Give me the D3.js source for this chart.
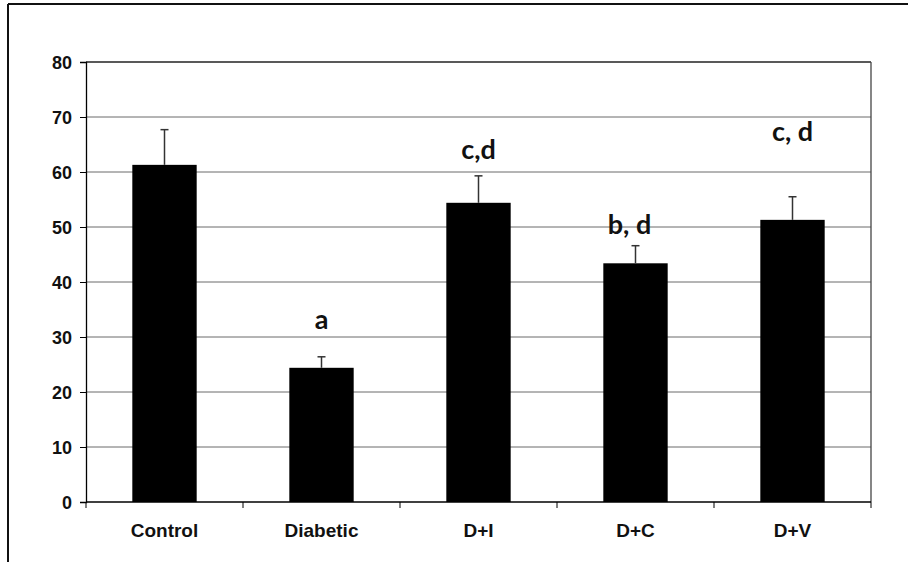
<!DOCTYPE html>
<html><head><meta charset="utf-8">
<script src="https://cdn.jsdelivr.net/npm/d3@7"></script>
<style>html,body{margin:0;padding:0;background:#fff;}svg{display:block;}</style>
</head><body>
<script>
const categories = ["Control","Diabetic","D+I","D+C","D+V"];
const values = [61.3, 24.4, 54.4, 43.4, 51.3];
const errors = [6.4, 2.0, 4.9, 3.2, 4.2];
const annotations = ["", "a", "c,d", "b, d", "c, d"];
const annotationValues = [null, 31.5, 62.4, 48.8, 65.7];
const yTicks = [0,10,20,30,40,50,60,70,80];

const W = 908, H = 562;
const svg = d3.select("body").append("svg").attr("width", W).attr("height", H);
const m = {left: 86, top: 62, right: 871, bottom: 502};

// outer frame
svg.append("line").attr("x1", 8).attr("x2", W).attr("y1", 4).attr("y2", 4).attr("stroke", "#111").attr("stroke-width", 2);
svg.append("line").attr("x1", 8).attr("x2", 8).attr("y1", 4).attr("y2", H).attr("stroke", "#111").attr("stroke-width", 2);

const x = d3.scaleBand().domain(categories).range([m.left, m.right]).paddingInner(0.59).paddingOuter(0.295);
const xr = d3.scaleBand().domain(categories).range([m.left, m.right]);
const y = d3.scaleLinear().domain([0, 80]).range([m.bottom, m.top]);

// gridlines
svg.append("g").selectAll("line").data(yTicks.filter(d => d > 0 && d < 80)).join("line")
  .attr("x1", m.left).attr("x2", m.right).attr("y1", d => y(d)).attr("y2", d => y(d))
  .attr("stroke", "#6a6a6a").attr("stroke-width", 1);
// plot border top/right
svg.append("line").attr("x1", m.left).attr("x2", m.right).attr("y1", y(80)).attr("y2", y(80)).attr("stroke", "#222").attr("stroke-width", 1.3);
svg.append("line").attr("x1", m.right).attr("x2", m.right).attr("y1", y(80)).attr("y2", y(0)).attr("stroke", "#444").attr("stroke-width", 1.3);

// bars
svg.append("g").selectAll("rect").data(categories).join("rect")
  .attr("x", d => x(d)).attr("width", x.bandwidth())
  .attr("y", (d,i) => y(values[i])).attr("height", (d,i) => y(0) - y(values[i]))
  .attr("fill", "#000");

// error bars
const eb = svg.append("g").attr("stroke", "#333").attr("stroke-width", 1.5);
categories.forEach((c,i) => {
  const cx = x(c) + x.bandwidth()/2;
  eb.append("line").attr("x1", cx).attr("x2", cx).attr("y1", y(values[i])).attr("y2", y(values[i]+errors[i]));
  eb.append("line").attr("x1", cx-4).attr("x2", cx+4).attr("y1", y(values[i]+errors[i])).attr("y2", y(values[i]+errors[i]));
});

// axes
const yAxis = d3.axisLeft(y).tickValues(yTicks).tickSize(6).tickPadding(8);
const gy = svg.append("g").attr("transform", `translate(${m.left},0)`).call(yAxis);
gy.attr("font-size", null);
gy.select(".domain").attr("stroke", "#000").attr("stroke-width", 1.3);
gy.selectAll(".tick line").attr("stroke", "#000");
gy.selectAll(".tick text").attr("font-family", "'Liberation Sans', Arial, sans-serif")
  .attr("font-weight", "bold").style("font-size", "18px").attr("fill", "#111")
  .attr("dy", "0.36em");

const gx = svg.append("g").attr("transform", `translate(0,${m.bottom})`);
gx.append("line").attr("x1", m.left).attr("x2", m.right).attr("stroke", "#000").attr("stroke-width", 1.3);
gx.selectAll("line.t").data(categories.concat(["end"])).join("line").attr("class","t")
  .attr("x1", (d,i) => i < categories.length ? xr(d) : m.right)
  .attr("x2", (d,i) => i < categories.length ? xr(d) : m.right)
  .attr("y1", 0).attr("y2", 6).attr("stroke", "#000");
gx.selectAll("text").data(categories).join("text")
  .attr("x", d => x(d) + x.bandwidth()/2).attr("y", 35)
  .attr("text-anchor", "middle")
  .attr("font-family", "'Liberation Sans', Arial, sans-serif")
  .attr("font-weight", "bold").style("font-size", "19px").attr("fill", "#111")
  .text(d => d);

// annotations
svg.append("g").selectAll("text").data(categories).join("text")
  .attr("x", (d,i) => x(d) + x.bandwidth()/2 + (i === 3 ? -6 : 0))
  .attr("y", (d,i) => annotationValues[i] == null ? 0 : y(annotationValues[i]))
  .attr("text-anchor", "middle")
  .attr("font-family", "Lato, 'Open Sans', sans-serif")
  .attr("font-weight", "bold").style("font-size", "27px").attr("fill", "#111")
  .text((d,i) => annotations[i]);
</script>
</body></html>
